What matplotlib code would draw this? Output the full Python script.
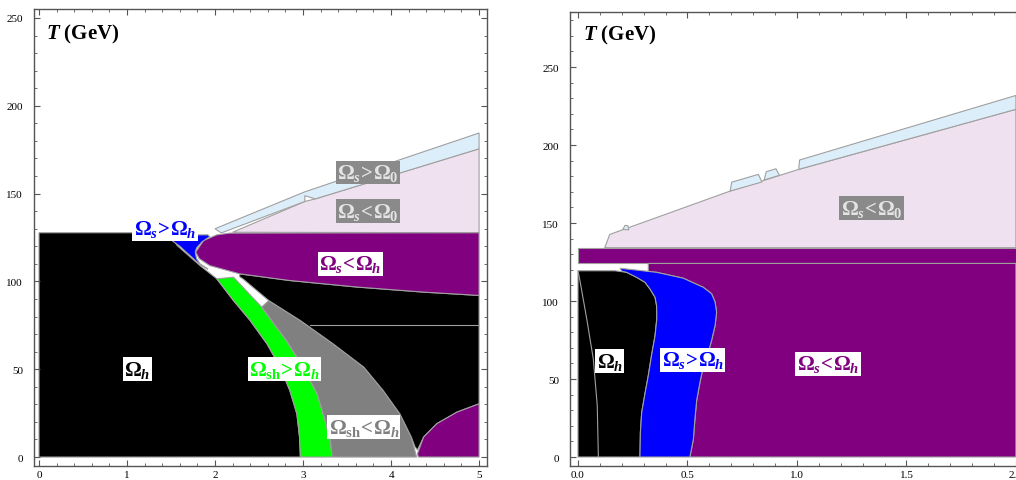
import matplotlib.pyplot as plt
from matplotlib.ticker import MultipleLocator

plt.rcParams['font.family'] = 'Liberation Serif'
plt.rcParams['mathtext.fontset'] = 'custom'
plt.rcParams['mathtext.rm'] = 'Liberation Serif:bold'
plt.rcParams['mathtext.it'] = 'Liberation Serif:italic:bold'
plt.rcParams['mathtext.bf'] = 'Liberation Serif:bold'

# ---- left panel: region boundaries (x, T in GeV)
green_left_edge = [(2.02, 101.5), (2.21, 89.1), (2.40, 77.7), (2.59, 64.5), (2.74, 51.2),
                   (2.85, 37.9), (2.93, 24.6), (2.96, 11.4), (2.97, 0)]
green_right_edge = [(3.33, 0), (3.31, 9.4), (3.25, 20.8), (3.16, 36), (3.00, 51.2),
                    (2.81, 66.4), (2.53, 85.4), (2.21, 102.4)]
gray_right_edge = [(2.61, 89.1), (2.97, 77.7), (3.34, 64.5), (3.69, 51.2), (3.91, 37.9),
                   (4.10, 24.6), (4.23, 11.4), (4.29, 0)]
purple_corner_edge = [(4.30, 1.9), (4.37, 11.4), (4.52, 19), (4.75, 25.6), (5, 30.3)]
ellipse_top = [(1.78, 116.7), (1.87, 123.3), (2.02, 126.5), (2.17, 127.5), (5, 127.7)]
ellipse_bottom = [(5, 92), (4.37, 93.9), (3.61, 96.8), (2.85, 100.5), (2.28, 104.3),
                  (1.94, 109), (1.82, 113)]

left_black = [(0, 0), (0, 127.7), (1.47, 127.7), (1.57, 120.4), (1.83, 109)] + green_left_edge
left_green = green_left_edge + green_right_edge
left_gray = [(2.53, 85.4), (2.61, 89.1)] + gray_right_edge + \
    [(3.33, 0), (3.31, 9.4), (3.25, 20.8), (3.16, 36), (3.00, 51.2), (2.81, 66.4)]
left_black2 = [(2.28, 102.6), (2.32, 101.3)] + gray_right_edge[:-1] + \
    [(4.27, 6), (4.30, 4)] + purple_corner_edge[1:] + ellipse_bottom[:5]
left_purple_low = [(4.31, 0)] + purple_corner_edge + [(5, 0)]
left_purple = ellipse_top + ellipse_bottom
left_blue = [(1.49, 124), (1.56, 126.5), (1.92, 126.5), (1.94, 125.5), (1.85, 122.5),
             (1.79, 119), (1.775, 116.7), (1.79, 113), (1.83, 110), (1.92, 107),
             (1.83, 109.5), (1.6, 120)]
left_sky = [(2.0, 130), (3.02, 151), (5, 184.5), (5, 175.5), (3.14, 147), (3.02, 148.8),
            (3.02, 145.5), (2.07, 127.6)]
left_pink = [(2.2, 128), (3.02, 145.5), (3.14, 147), (5, 175.5), (5, 127.7)]
left_line_T = 75.2
left_line_x = (3.08, 5)

# ---- right panel
black_edge = [(0.169, 119.4), (0.222, 118.4), (0.268, 115.2), (0.306, 112), (0.329, 107.7),
              (0.352, 102.4), (0.359, 97), (0.360, 88.7), (0.352, 77.8), (0.336, 65.2),
              (0.321, 52.1), (0.306, 40.6), (0.291, 28.6), (0.285, 15.8), (0.283, 0)]
blue_edge = [(0.192, 121), (0.359, 118.4), (0.481, 114.6), (0.572, 108.8), (0.61, 104.7),
             (0.626, 99.4), (0.633, 92.8), (0.626, 84.2), (0.61, 74.7), (0.595, 67.1),
             (0.572, 57.7), (0.557, 47.9), (0.542, 36.3), (0.534, 24.4), (0.527, 11.5),
             (0.511, 0)]
right_black = [(0, 0), (0, 119.4)] + black_edge
right_inner = [(0, 119.4), (0.009, 113), (0.04, 88.5), (0.07, 62.8), (0.088, 32.9),
               (0.093, 0)]
right_blue = blue_edge + black_edge[::-1][:-1] + [(0.2, 119.2)]
right_purple = [(0.321, 124.1), (2.0, 124.1), (2.0, 0)] + blue_edge[::-1][:-1] + \
    [(0.321, 118.8)]
right_band = [(0, 124.1), (2.0, 124.1), (2.0, 134.2), (0, 134.2)]
right_pink = [(0.122, 134.2), (0.145, 142.7), (0.695, 170.5), (1.008, 184.4), (2.0, 222.9),
              (2.0, 134.2)]
right_sky = [
    [(1.008, 184.4), (1.012, 190.4), (2.0, 231.8), (2.0, 222.9)],
    [(0.695, 170.5), (0.702, 176.2), (0.824, 181.2), (0.84, 176.3)],
    [(0.85, 177.6), (0.86, 182.9), (0.904, 184.8), (0.92, 180.6)],
    [(0.205, 146.0), (0.215, 148.5), (0.228, 148.3), (0.232, 145.6)],
]

col_purple = '#800080'
col_blue = '#0000ff'
col_green = '#00ff00'
col_gray = '#808080'
col_sky = '#ddeefb'
col_pink = '#efe1ef'
col_edge = '#a0a0a0'


def region(ax, pts, color):
    xs, ys = zip(*pts)
    ax.fill(xs, ys, facecolor=color, edgecolor=col_edge, lw=0.8)


def label(ax, x, y, s, color, box='white'):
    ax.text(x, y, s, color=color, fontsize=15, ha='center', va='center',
            bbox=dict(facecolor=box, edgecolor='none', pad=1.0))


def style(ax, xmaj, xmin):
    ax.xaxis.set_major_locator(MultipleLocator(xmaj))
    ax.xaxis.set_minor_locator(MultipleLocator(xmin))
    ax.yaxis.set_major_locator(MultipleLocator(50))
    ax.yaxis.set_minor_locator(MultipleLocator(10))
    ax.tick_params(which='both', direction='in', top=True, right=True,
                   labelsize=8, color='#555555')
    ax.tick_params(which='major', length=4.5, width=0.8)
    ax.tick_params(which='minor', length=2.5, width=0.6)
    ax.tick_params(axis='y', pad=8)
    ax.tick_params(axis='x', pad=3)
    for sp in ax.spines.values():
        sp.set_color('#555555')
        sp.set_linewidth(1.0)


W, H = 1016, 481
fig = plt.figure(figsize=(W / 100, H / 100), dpi=100)

# left panel
ax1 = fig.add_axes([34 / W, 14 / H, 453 / W, 457 / H])
for pts, c in [(left_pink, col_pink), (left_sky, col_sky), (left_black, 'black'),
               (left_green, col_green), (left_gray, col_gray), (left_black2, 'black'),
               (left_purple_low, col_purple), (left_purple, col_purple),
               (left_blue, col_blue)]:
    region(ax1, pts, c)
ax1.plot(left_line_x, [left_line_T, left_line_T], color=col_edge, lw=0.8)
ax1.set_xlim(-0.057, 5.09)
ax1.set_ylim(-5.1, 255.1)
style(ax1, 1, 0.2)
ax1.xaxis.set_major_formatter(lambda v, p: f'{v:.0f}')

label(ax1, 1.12, 50, r'$\Omega_h$', 'black')
label(ax1, 2.79, 50, r'$\Omega_\mathrm{sh}\!>\!\Omega_h$', col_green)
label(ax1, 3.69, 17, r'$\Omega_\mathrm{sh}\!<\!\Omega_h$', col_gray)
label(ax1, 3.54, 110, r'$\Omega_s\!<\!\Omega_h$', col_purple)
label(ax1, 1.43, 130, r'$\Omega_s\!>\!\Omega_h$', col_blue)
label(ax1, 3.74, 162, r'$\Omega_s\!>\!\Omega_0$', '#e4e4e4', box='#8a8a8a')
label(ax1, 3.74, 140, r'$\Omega_s\!<\!\Omega_0$', '#e4e4e4', box='#8a8a8a')
ax1.text(0.5, 241, r'$T$ (GeV)', fontsize=15, fontweight='bold', ha='center', va='center')

# right panel
ax2 = fig.add_axes([570 / W, 14 / H, 454 / W, 454 / H])
region(ax2, right_pink, col_pink)
for pts in right_sky:
    region(ax2, pts, col_sky)
region(ax2, right_band, col_purple)
region(ax2, right_purple, col_purple)
region(ax2, right_black, 'black')
region(ax2, right_blue, col_blue)
xs, ys = zip(*right_inner)
ax2.plot(xs, ys, color=col_edge, lw=0.8)
ax2.set_xlim(-0.0365, 2.037)
ax2.set_ylim(-5.77, 285.3)
style(ax2, 0.5, 0.1)
ax2.xaxis.set_major_formatter(lambda v, p: f'{v:.1f}')

label(ax2, 0.145, 61.5, r'$\Omega_h$', 'black')
label(ax2, 0.524, 62.2, r'$\Omega_s\!>\!\Omega_h$', col_blue)
label(ax2, 1.142, 59.8, r'$\Omega_s\!<\!\Omega_h$', col_purple)
label(ax2, 1.34, 159.6, r'$\Omega_s\!<\!\Omega_0$', '#e4e4e4', box='#8a8a8a')
ax2.text(0.19, 271, r'$T$ (GeV)', fontsize=15, fontweight='bold', ha='center', va='center')

fig.savefig('out.png', dpi=100)
